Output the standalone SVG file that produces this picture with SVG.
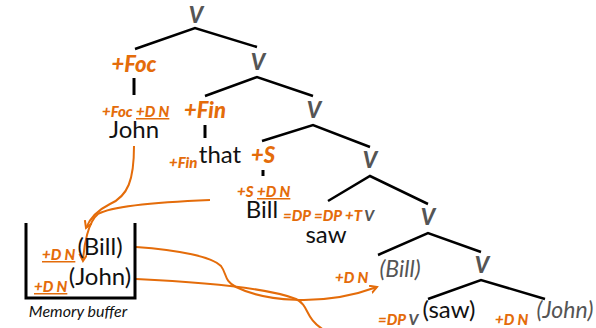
<svg xmlns="http://www.w3.org/2000/svg" width="596" height="328" viewBox="0 0 596 328">
<defs>
<style>
text{font-family:Lato,"Open Sans","DejaVu Sans",sans-serif;}
.cat{font-size:22px;font-weight:900;font-style:italic;fill:#555;text-anchor:middle;}
.feat{font-size:22px;font-weight:900;font-style:italic;fill:#E46C0A;text-anchor:middle;}
.lab{font-size:15px;font-weight:900;font-style:italic;fill:#E46C0A;}
.g{fill:#555;}
.u{text-decoration:underline;}
.word{font-size:24px;fill:#111;text-anchor:middle;}
.trace{font-size:23px;font-style:italic;fill:#555;text-anchor:middle;}
.edge{stroke:#000;stroke-width:2.5;fill:none;}
.tick{stroke:#000;stroke-width:3;fill:none;}
.mv{stroke:#E46C0A;stroke-width:2;fill:none;}
</style>
<marker id="ah" markerWidth="10" markerHeight="10" refX="7" refY="4" orient="auto" markerUnits="userSpaceOnUse">
<path d="M0,0 L7,4 L0,8" fill="none" stroke="#E46C0A" stroke-width="2"/>
</marker>
</defs>

<g id="edges">
<path class="edge" d="M135,49 L195,28 L257,47"/>
<path class="edge" d="M205,96 L257,77 L313,96"/>
<path class="edge" d="M262,141 L313,125 L370,147"/>
<path class="edge" d="M328,201 L370,176 L428,204"/>
<path class="edge" d="M378,255 L428,233 L481,252"/>
<path class="edge" d="M428,299 L481,280 L545,299"/>
<path class="tick" d="M134,78 V95"/>
<path class="tick" d="M205,125 V138"/>
<path class="tick" d="M263,170 V176"/>
</g>

<g id="connectors">
<path class="mv" d="M134,146 C134,180 128,196 110,204 C98,210 90,218 86,228" marker-end="url(#ah)"/>
<path class="mv" d="M210,200 C160,202 112,206 98,214 C88,222 84,245 83,261" marker-end="url(#ah)"/>
<path class="mv" d="M136,247 C180,250 212,257 221,266 C227,274 224,281 236,287 C262,300 320,308 377,287" marker-end="url(#ah)"/>
<path class="mv" d="M136,279 C200,282 268,288 296,299 C310,306 304,318 324,330"/>
</g>

<g id="n-V1"><text class="cat" x="196" y="23">V</text></g>
<g id="n-Foc"><text class="feat" x="134" y="72">+Foc</text></g>
<g id="n-John"><text class="lab" x="102" y="117">+Foc</text><text class="lab u" x="136" y="117">+D N</text><text class="word" x="134" y="138">John</text></g>
<g id="n-V2"><text class="cat" x="258" y="70">V</text></g>
<g id="n-Fin"><text class="feat" x="205" y="118">+Fin</text></g>
<g id="n-that"><text class="lab" x="169" y="168">+Fin</text><text class="word" x="220" y="163">that</text></g>
<g id="n-V3"><text class="cat" x="314" y="118">V</text></g>
<g id="n-S"><text class="feat" x="263" y="163">+S</text></g>
<g id="n-Bill"><text class="lab" x="237" y="197">+S</text><text class="lab u" x="257" y="197">+D N</text><text class="word" x="262" y="218">Bill</text></g>
<g id="n-saw"><text class="lab" x="283" y="221">=DP =DP +T <tspan class="g">V</tspan></text><text class="word" x="326" y="243">saw</text></g>
<g id="n-V4"><text class="cat" x="370" y="168">V</text></g>
<g id="n-V5"><text class="cat" x="428" y="225">V</text></g>
<g id="n-Billt"><text class="lab" x="335" y="283">+D N</text><text class="trace" x="400" y="277">(Bill)</text></g>
<g id="n-V6"><text class="cat" x="482" y="273">V</text></g>
<g id="n-sawt"><text class="lab" x="378" y="325">=DP <tspan class="g">V</tspan></text><text class="word" x="449" y="318">(saw)</text></g>
<g id="n-Johnt"><text class="lab" x="495" y="325">+D N</text><text class="trace" x="565" y="318">(John)</text></g>

<g id="n-buffer">
<path class="tick" d="M26,223 V298 H135 V223"/>
<text class="lab u" x="42" y="260">+D N</text>
<text class="word" x="100" y="255">(Bill)</text>
<text class="lab u" x="34" y="292">+D N</text>
<text class="word" x="100" y="285">(John)</text>
<text x="78" y="317" style="font-size:16px;font-style:italic;fill:#111;text-anchor:middle">Memory buffer</text>
</g>
</svg>
